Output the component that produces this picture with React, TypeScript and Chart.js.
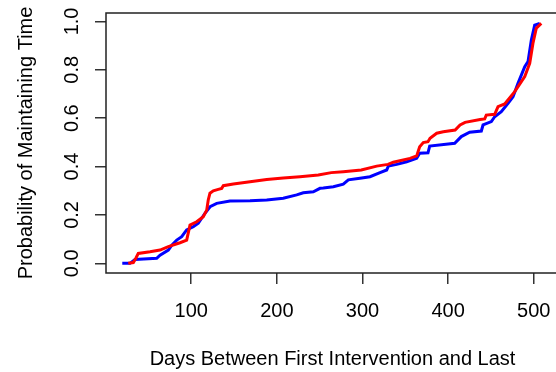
import React, { useEffect, useRef } from "react";
import { Chart, registerables } from "chart.js";

Chart.register(...registerables);

const xTickValues = [100, 200, 300, 400, 500];
const yTickValues = [0, 0.2, 0.4, 0.6, 0.8, 1.0];
const xTitle = "Days Between First Intervention and Last";
const yTitle = "Probability of Maintaining Time";

const blueDays = [19.5, 28.5, 34.4, 59.7, 63.6, 73.3, 77.6, 83.1, 88.9, 94.7, 102.4, 108.3, 116.1, 122.0, 129.8, 145.3, 168.7, 188.2, 207.5, 223.2, 230.9, 242.6, 250.4, 254.3, 266.0, 277.6, 283.5, 297.1, 308.8, 320.5, 328.3, 330.2, 340.0, 351.6, 363.3, 366.8, 376.5, 378.5, 407.7, 415.4, 425.2, 438.8, 440.8, 450.5, 454.4, 462.1, 470.0, 475.8, 481.6, 489.5, 493.3, 497.2, 501.1, 507.0];
const blueProb = [0.0, 0.0, 0.016, 0.021, 0.034, 0.055, 0.076, 0.096, 0.110, 0.138, 0.151, 0.166, 0.207, 0.234, 0.248, 0.258, 0.259, 0.262, 0.269, 0.283, 0.292, 0.296, 0.310, 0.311, 0.317, 0.327, 0.345, 0.352, 0.358, 0.375, 0.386, 0.402, 0.409, 0.420, 0.434, 0.455, 0.457, 0.485, 0.496, 0.524, 0.542, 0.547, 0.572, 0.586, 0.606, 0.627, 0.662, 0.689, 0.744, 0.813, 0.834, 0.923, 0.985, 0.992];

const redDays = [26.5, 32.4, 35.5, 38.2, 51.9, 63.6, 73.3, 86.9, 94.7, 98.6, 106.4, 114.1, 118.1, 119.9, 121.9, 125.8, 131.6, 135.6, 137.5, 149.2, 168.7, 188.2, 207.5, 227.0, 248.4, 263.6, 277.6, 298.6, 316.6, 329.8, 336.0, 355.5, 363.3, 366.8, 371.0, 376.5, 378.9, 386.7, 394.4, 408.2, 414.0, 419.8, 437.4, 442.7, 444.6, 454.4, 458.3, 466.1, 477.8, 489.5, 495.3, 499.1, 503.0, 508.8];
const redProb = [0.0, 0.003, 0.022, 0.041, 0.048, 0.055, 0.069, 0.085, 0.096, 0.158, 0.172, 0.193, 0.220, 0.262, 0.290, 0.300, 0.306, 0.310, 0.321, 0.328, 0.337, 0.347, 0.353, 0.358, 0.365, 0.375, 0.379, 0.386, 0.402, 0.409, 0.418, 0.434, 0.444, 0.482, 0.499, 0.503, 0.517, 0.538, 0.544, 0.551, 0.572, 0.583, 0.595, 0.597, 0.613, 0.616, 0.648, 0.659, 0.710, 0.772, 0.827, 0.910, 0.972, 0.992];

const FONT = "'Liberation Sans', Arial, Helvetica, sans-serif";

const boxPlugin = {
  id: "rbox",
  beforeDatasetsDraw(chart: any) {
    const { ctx, chartArea: a } = chart;
    ctx.save();
    ctx.strokeStyle = "#222";
    ctx.lineWidth = 1.5;
    ctx.strokeRect(a.left, a.top, a.right - a.left, a.bottom - a.top);
    ctx.restore();
  },
};

const zeroPad = (s: any) => {
  s.paddingLeft = 0;
  s.paddingRight = 0;
  s.paddingTop = 0;
  s.paddingBottom = 0;
};

export default function App() {
  const ref = useRef<HTMLCanvasElement>(null);

  useEffect(() => {
    if (!ref.current) return;
    const blue = blueDays.map((d, i) => ({ x: d, y: blueProb[i] }));
    const red = redDays.map((d, i) => ({ x: d, y: redProb[i] }));
    const chart = new Chart(ref.current, {
      type: "line",
      data: {
        datasets: [
          { data: red, borderColor: "#ff0000", borderWidth: 3, pointRadius: 0, tension: 0, order: 0 },
          { data: blue, borderColor: "#0000ff", borderWidth: 3, pointRadius: 0, tension: 0, order: 1 },
        ],
      },
      options: {
        animation: false,
        responsive: false,
        devicePixelRatio: 1,
        layout: { padding: { top: 13, right: 13, left: 0, bottom: 0 } },
        plugins: { legend: { display: false }, tooltip: { enabled: false } },
        scales: {
          x: {
            type: "linear",
            min: 0.5,
            max: 529.5,
            afterBuildTicks: (s: any) => {
              s.ticks = xTickValues.map((v) => ({ value: v }));
            },
            afterFit: (s: any) => {
              s.height = 99;
              zeroPad(s);
            },
            grid: { display: true, drawOnChartArea: false, drawTicks: true, tickLength: 11, color: "#333", lineWidth: 1.5 },
            border: { display: false },
            ticks: {
              color: "#000",
              font: { family: FONT, size: 20 },
              padding: 15,
              maxRotation: 0,
              minRotation: 0,
              callback: (v: any) => String(v),
            },
            title: {
              display: true,
              text: xTitle,
              color: "#000",
              font: { family: FONT, size: 20 },
              padding: { top: 0, bottom: 0.5 },
            },
          },
          y: {
            type: "linear",
            min: -0.04,
            max: 1.035,
            afterBuildTicks: (s: any) => {
              s.ticks = yTickValues.map((v) => ({ value: v }));
            },
            afterFit: (s: any) => {
              s.width = 106;
              zeroPad(s);
            },
            grid: { display: true, drawOnChartArea: false, drawTicks: true, tickLength: 11, color: "#333", lineWidth: 1.5 },
            border: { display: false },
            ticks: {
              color: "#000",
              font: { family: FONT, size: 20 },
              padding: 8.4,
              minRotation: 90,
              maxRotation: 90,
              crossAlign: "center",
              callback: (v: any) => Number(v).toFixed(1),
            },
            title: {
              display: true,
              text: yTitle,
              color: "#000",
              font: { family: FONT, size: 20 },
              padding: { top: 14.5, bottom: 0 },
            },
          },
        },
      },
      plugins: [boxPlugin],
    });
    return () => chart.destroy();
  }, []);

  return (
    <div style={{ position: "absolute", left: 0, top: 0, width: 556, height: 372, overflow: "hidden", background: "#fff" }}>
      <canvas ref={ref} width={572} height={372} style={{ display: "block", width: 572, height: 372 }} />
    </div>
  );
}
